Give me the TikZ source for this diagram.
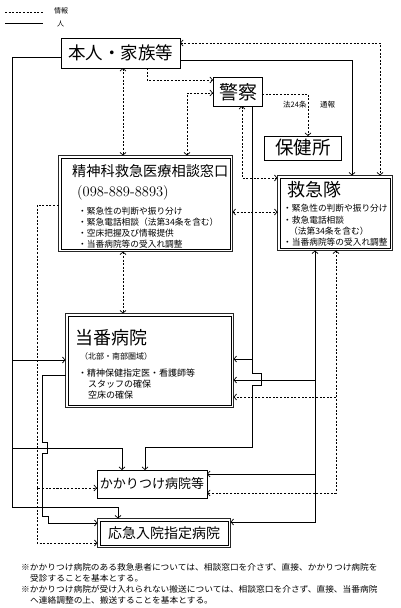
\documentclass[tikz,border=0pt]{standalone}
\usepackage{fontspec}
\newfontfamily\jp{Noto Sans CJK JP}
\newfontfamily\jpw[FakeStretch=1.05]{Noto Sans CJK JP}
\usetikzlibrary{arrows.meta,calc}
\newcommand\jfs[1]{\fontsize{#1}{#1}\selectfont}
\tikzset{
  box/.style={draw, line width=0.8pt, inner sep=0pt, outer sep=0pt},
  dbox/.style={draw=black!85, line width=1.4pt, inner sep=0pt, outer sep=0pt},
  inframe/.style={draw, line width=0.6pt},
  info/.style={line width=0.8pt, dash pattern=on 2pt off 1.6pt},
  person/.style={line width=0.7pt},
  jt/.style={inner sep=0pt, font=\jp},
  note/.style={inner sep=0pt, font=\jpw\jfs{8.3}, anchor=west},
  >={Straight Barb[length=2.6pt,width=6pt,line width=0.7pt]}
}
\newcommand\innerframe[1]{\draw[inframe] ($(#1.north west)+(2.6,2.6)$) rectangle ($(#1.south east)+(-2.6,-2.6)$);}
\begin{document}
\begin{tikzpicture}[x=1pt,y=-1pt]
\useasboundingbox (0,0) rectangle (400,608);
\fill[white] (0,0) rectangle (400,608);

% legend
\draw[info] (5,12) -- (43,12);
\draw[person] (5,23) -- (43,23);
\node[jt, anchor=west, font=\jp\jfs{7}] (lgInfo) at (54,11) {情報};
\node[jt, anchor=west, font=\jp\jfs{7}] (lgPerson) at (57,24) {人};

% boxes
\node[box, minimum width=119pt, minimum height=30pt] (honin) at (120.5,53) {};
\node[box, minimum width=49pt, minimum height=29pt] (keisatsu) at (237.5,91.5) {};
\node[box, minimum width=77pt, minimum height=24pt] (hokenjo) at (302.5,148) {};
\node[dbox, minimum width=115pt, minimum height=75pt] (kyukyu) at (335,213) {};
\node[dbox, minimum width=174pt, minimum height=96pt] (madoguchi) at (145.5,203.5) {};
\node[dbox, minimum width=168pt, minimum height=94pt] (toban) at (149.5,360.5) {};
\node[box, minimum width=110pt, minimum height=28pt] (kakari) at (152,484) {};
\node[dbox, minimum width=133pt, minimum height=29pt] (ooky) at (164,533) {};
\innerframe{kyukyu}
\innerframe{madoguchi}
\innerframe{toban}
\innerframe{ooky}

% texts
\node[jt, font=\jp\jfs{17.5}] (tHonin) at (120.5,53) {本人・家族等};
\node[jt, font=\jp\jfs{19}] (tKeisatsu) at (238,92) {警察};
\node[jt, font=\jp\jfs{18.5}] (tHokenjo) at (303,148) {保健所};
\node[jt, anchor=west, font=\jp\jfs{18}] (tKyukyu) at (287,190) {救急隊};
\node[jt, anchor=west, font=\jp\jfs{8.7}] (k1) at (283,208) {・緊急性の判断や振り分け};
\node[jt, anchor=west, font=\jp\jfs{8.7}] (k2) at (283,220) {・救急電話相談};
\node[jt, anchor=west, font=\jp\jfs{8.7}] (k3) at (289,231) {（法第34条を含む）};
\node[jt, anchor=west, font=\jp\jfs{8.7}] (k4) at (283,242) {・当番病院等の受入れ調整};

\node[jt, anchor=west, font=\jp\jfs{14.2}] (tMado) at (72,171) {精神科救急医療相談窓口};
\node[inner sep=0pt, anchor=west, font=\jfs{14.5}] (tTel) at (77,193) {(098-889-8893)};
\node[jt, anchor=west, font=\jp\jfs{8.7}] (m1) at (78,211) {・緊急性の判断や振り分け};
\node[jt, anchor=west, font=\jp\jfs{8.7}] (m2) at (78,222) {・緊急電話相談（法第34条を含む）};
\node[jt, anchor=west, font=\jp\jfs{8.7}] (m3) at (78,233) {・空床把握及び情報提供};
\node[jt, anchor=west, font=\jp\jfs{8.7}] (m4) at (78,244) {・当番病院等の受入れ調整};

\node[jt, anchor=west, font=\jp\jfs{18}] (tToban) at (75,338) {当番病院};
\node[jt, anchor=west, font=\jp\jfs{8}] (t1) at (80,356) {（北部・南部圏域）};
\node[jt, anchor=west, font=\jp\jfs{9}] (t2) at (78,373) {・精神保健指定医・看護師等};
\node[jt, anchor=west, font=\jp\jfs{9}] (t3) at (88,384) {スタッフの確保};
\node[jt, anchor=west, font=\jp\jfs{9}] (t4) at (88,395) {空床の確保};

\node[jt, font=\jp\jfs{13}] (tKakari) at (152,484) {かかりつけ病院等};
\node[jt, font=\jp\jfs{14}] (tOoky) at (164,533) {応急入院指定病院};

\node[jt, anchor=west, font=\jp\jfs{7.5}] (l24) at (283,105) {法24条};
\node[jt, anchor=west, font=\jp\jfs{7.5}] (ltsu) at (320,105) {通報};

% footnotes
\node[note] (f1) at (21,567) {※かかりつけ病院のある救急患者については、相談窓口を介さず、直接、かかりつけ病院を};
\node[note] (f2) at (30,578) {受診することを基本とする。};
\node[note] (f3) at (21,589) {※かかりつけ病院が受け入れられない搬送については、相談窓口を介さず、直接、当番病院};
\node[note] (f4) at (30,600) {へ連絡調整の上、搬送することを基本とする。};

% ---- information (dashed) connectors
\draw[info,<->] (honin.east |- 0,43) -| (kyukyu.north -| 380,0);
\draw[info,->] (honin.south -| 147,0) |- (keisatsu.west |- 0,80);
\draw[info,<->] (honin.south -| 123,0) -- (madoguchi.north -| 123,0);
\draw[info,<->] (madoguchi.north -| 187,0) |- (keisatsu.west |- 0,93);
\draw[info,->] (keisatsu.east |- 0,94) -| (hokenjo.north -| 308,0);
\draw[info,<->] (keisatsu.south -| 242,0) |- (kyukyu.west |- 0,178);
\draw[info,<->] (madoguchi.east |- 0,212) -- (kyukyu.west |- 0,212);
\draw[info,<->] (madoguchi.south -| 123,0) -- (toban.north -| 123,0);
\coordinate (dL) at (37,488);
\draw[info,->] (madoguchi.west |- 0,205) -| (dL) -- (kakari.west |- dL);
\draw[info,->] (dL) |- (ooky.west |- 0,543);
\coordinate (dR) at (336,397);
\draw[info,<->] (kyukyu.south -| 336,0) |- (kakari.east |- 0,493);
\draw[info,->] (dR) -- (toban.east |- dR);

% ---- person (solid) connectors
\draw[person,->] (honin.east |- 0,60) -| (kyukyu.north -| 352,0);
\draw[person,->] (honin.west |- 0,57) -| (12,507) -| (ooky.north -| 118,0);
\coordinate (pA) at (12,360);
\coordinate (pB) at (12,448);
\draw[person,->] (pA) -- (toban.west |- pA);
\draw[person,->] (pB) -| (kakari.north -| 122,0);
\draw[person,->] (keisatsu.south -| 252,0) -- (252,373) -- (261,373) -- (261,385) -- (252,385) -- (252,447) -| (kakari.north -| 145,0);
\coordinate (pC) at (252,359);
\draw[person,->] (pC) -- (toban.east |- pC);
\draw[person,->] (toban.west |- 0,375) -| (42,442) -- (47,442) -- (47,453) -- (42,453) -- (42,516) -- (48,516) |- (ooky.west |- 0,523);
\draw[person,<->] (kyukyu.south -| 315,0) |- (ooky.east |- 0,522);
\coordinate (pD) at (315,380);
\coordinate (pE) at (315,474);
\draw[person,->] (pD) -- (toban.east |- pD);
\draw[person,->] (pE) -- (kakari.east |- pE);
\end{tikzpicture}
\end{document}
